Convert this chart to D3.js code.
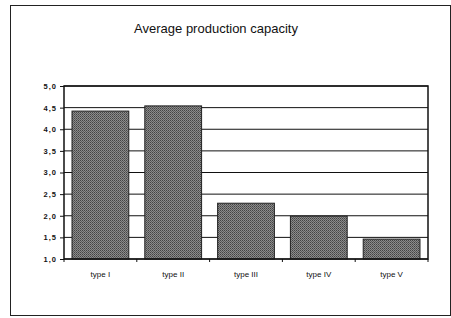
<!DOCTYPE html>
<html>
<head>
<meta charset="utf-8">
<script src="https://cdn.jsdelivr.net/npm/d3@7"></script>
<style>
  body { margin: 0; background: #fff; }
  text { font-family: Arial, "Liberation Sans", sans-serif; }
</style>
</head>
<body>
<div id="chart"></div>
<script>
// chart data
var categories = ["type I", "type II", "type III", "type IV", "type V"];
var capacity = [4.42, 4.54, 2.29, 1.99, 1.46];
var yTicks = [1.0, 1.5, 2.0, 2.5, 3.0, 3.5, 4.0, 4.5, 5.0];
var chartTitle = "Average production capacity";

var svgWidth = 451;
var svgHeight = 318;

// plot area inside the frame
var margin = { top: 86, right: 23, bottom: 59, left: 64 };
var width = svgWidth - margin.left - margin.right;
var height = svgHeight - margin.top - margin.bottom;

var svg = d3.select("#chart")
  .append("svg")
  .attr("width", svgWidth)
  .attr("height", svgHeight);

// dithered grey like the scanned print
var defs = svg.append("defs");
var pat = defs.append("pattern")
  .attr("id", "dither")
  .attr("width", 2)
  .attr("height", 2)
  .attr("patternUnits", "userSpaceOnUse");
pat.append("rect").attr("width", 2).attr("height", 2).attr("fill", "#8c8c8c");
pat.append("rect").attr("width", 1).attr("height", 1).attr("fill", "#444");
pat.append("rect").attr("x", 1).attr("y", 1).attr("width", 1).attr("height", 1).attr("fill", "#5c5c5c");

// outer frame
svg.append("rect")
  .attr("x", 10.5)
  .attr("y", 5.5)
  .attr("width", 440)
  .attr("height", 310)
  .attr("fill", "none")
  .attr("stroke", "#222")
  .attr("stroke-width", 1);

svg.append("text")
  .attr("x", 216)
  .attr("y", 33)
  .attr("text-anchor", "middle")
  .attr("font-size", "13px")
  .attr("fill", "#111")
  .text(chartTitle);

var chartGroup = svg.append("g")
  .attr("transform", `translate(${margin.left}, ${margin.top})`);

var xScale = d3.scaleBand()
  .domain(categories)
  .range([0, width])
  .paddingInner(0.22)
  .paddingOuter(0.11);

var yScale = d3.scaleLinear()
  .domain([1, 5])
  .range([height, 0]);

// gridlines
chartGroup.append("g")
  .selectAll("line")
  .data(yTicks)
  .enter()
  .append("line")
  .attr("x1", 0)
  .attr("x2", width)
  .attr("y1", d => yScale(d))
  .attr("y2", d => yScale(d))
  .attr("stroke", "#111")
  .attr("stroke-width", 1);

// bars
chartGroup.selectAll(".bar")
  .data(capacity)
  .enter()
  .append("rect")
  .attr("class", "bar")
  .attr("x", (d, i) => xScale(categories[i]))
  .attr("y", d => yScale(d))
  .attr("width", xScale.bandwidth())
  .attr("height", d => height - yScale(d))
  .attr("fill", "url(#dither)")
  .attr("stroke", "#222")
  .attr("stroke-width", 1);

// plot border
chartGroup.append("rect")
  .attr("width", width)
  .attr("height", height)
  .attr("fill", "none")
  .attr("stroke", "#111")
  .attr("stroke-width", 1.5);

// y axis
var leftAxis = d3.axisLeft(yScale)
  .tickValues(yTicks)
  .tickSize(4)
  .tickPadding(3)
  .tickFormat(d => d3.format(".1f")(d).replace(".", ","));

var yAxis = chartGroup.append("g").call(leftAxis);
yAxis.select(".domain").remove();
yAxis.selectAll("line").attr("stroke", "#111");
yAxis.selectAll("text")
  .attr("fill", "#111")
  .attr("font-size", "7.5px")
  .attr("font-weight", "bold")
  .attr("letter-spacing", "1px")
  .attr("font-family", "Arial, sans-serif");

// x axis
var bottomAxis = d3.axisBottom(xScale)
  .tickSize(0)
  .tickPadding(12);

var xAxis = chartGroup.append("g")
  .attr("transform", `translate(0, ${height})`)
  .call(bottomAxis);
xAxis.select(".domain").remove();
xAxis.selectAll("text")
  .attr("fill", "#111")
  .attr("font-size", "8px")
  .attr("font-family", "Arial, sans-serif");

// small ticks between categories
chartGroup.append("g")
  .selectAll("line")
  .data(d3.range(categories.length + 1))
  .enter()
  .append("line")
  .attr("x1", d => d * width / categories.length)
  .attr("x2", d => d * width / categories.length)
  .attr("y1", height)
  .attr("y2", height + 3)
  .attr("stroke", "#111");
</script>
</body>
</html>
